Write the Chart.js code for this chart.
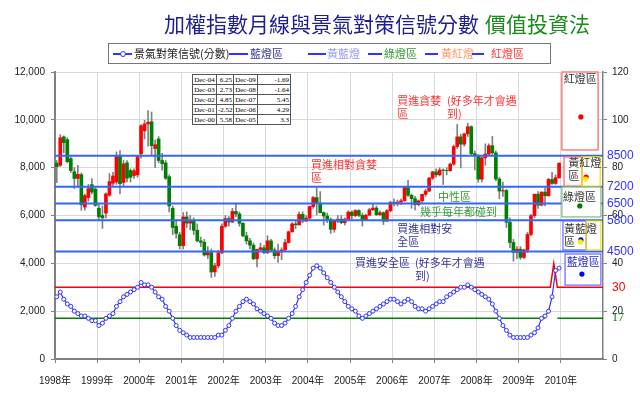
<!DOCTYPE html>
<html>
<head>
<meta charset="utf-8">
<script src="https://cdn.jsdelivr.net/npm/chart.js@4/dist/chart.umd.min.js"></script>
<style>
  body { margin: 0; background: #fff; }
  #wrap { position: relative; width: 640px; height: 394px; overflow: hidden; }
  #title { position: absolute; top: 13px; left: 164px; font: 21px/21px 'Noto Sans CJK TC', sans-serif; color: #1f1f8f; white-space: nowrap; }
  #title span { color: #1a8c1a; margin-left: 6px; }
  #legend { position: absolute; left: 108px; top: 43px; width: 441px; height: 19px; border: 1px solid #777; background: #fff;
    font: 11px/19px 'Noto Sans CJK TC', sans-serif; }
  #legend .ln { position: absolute; top: 9px; height: 2px; background: #3333ff; }
  #legend .dot { position: absolute; left: 7px; top: -2px; width: 4px; height: 4px; border: 1px solid #3333ff; border-radius: 50%; background: #fff; }
  #legend .lt { position: absolute; top: 0; white-space: nowrap; }
  #tbl { position: absolute; left: 192px; top: 74px; width: 98px; border-collapse: collapse; background: #fff;
    font: 7px/8px 'Liberation Serif', serif; color: #000; table-layout: fixed; }
  #tbl td { border: 1px solid #555; padding: 0 1px; height: 9px; text-align: right; white-space: nowrap; }
  #tbl td.d { text-align: center; padding: 0; }
</style>
</head>
<body>
<div id="wrap">
  <canvas id="c" width="640" height="394"></canvas>
  <div id="title">加權指數月線與景氣對策信號分數<span>價值投資法</span></div>
  <div id="legend">
    <span class="ln" style="left:4px;width:19px"><i class="dot"></i></span>
    <span class="lt" style="left:25px;color:#222">景氣對策信號(分數)</span>
    <span class="ln" style="left:120px;width:19px"></span>
    <span class="lt" style="left:141px;color:#333399">藍燈區</span>
    <span class="ln" style="left:199px;width:18px"></span>
    <span class="lt" style="left:218px;color:#9999ff">黃藍燈</span>
    <span class="ln" style="left:259px;width:14px"></span>
    <span class="lt" style="left:275px;color:#339933">綠燈區</span>
    <span class="ln" style="left:316px;width:13px"></span>
    <span class="lt" style="left:332px;color:#ff9966">黃紅燈</span>
    <span class="ln" style="left:363px;width:12px"></span>
    <span class="lt" style="left:382px;color:#ff3333">紅燈區</span>
  </div>
  <table id="tbl"></table>
</div>
<script>
// monthly TAIEX candles, Jan 1998 .. Dec 2009
const open = [
  8187, 8100, 9290, 9170, 8380, 7830, 7550, 7710, 6350, 6750, 7290, 7100,
  6300, 6000, 6100, 6850, 7350, 7400, 8500, 7380, 8200, 7880, 7670, 7700,
  8580, 9540, 9830, 9920, 8800, 9200, 8300, 8200, 7620, 6300, 5550, 5200,
  4740, 5940, 5680, 5800, 5380, 4940, 4880, 4350, 4450, 3640, 3900, 4440,
  5550, 5870, 5730, 6170, 6065, 5675, 5150, 4940, 4760, 4190, 4580, 4650,
  4450, 4940, 4560, 4320, 4480, 4560, 4870, 5320, 5650, 5610, 6045, 5770,
  5890, 6375, 6750, 6520, 6120, 5980, 5840, 5420, 5765, 5845, 5705, 5845,
  6140, 5995, 6207, 6005, 5818, 6011, 6241, 6312, 6033, 6118, 5764, 6203,
  6548, 6532, 6561, 6613, 7171, 6846, 6704, 6455, 6611, 6883, 7021, 7567,
  7823, 7700, 7902, 7884, 7875, 8145, 8883, 9287, 8982, 9411, 9711, 8586,
  8506, 7521, 8413, 8572, 8920, 8619, 7524, 7024, 7046, 5720, 4871, 4460,
  4591, 4248, 4557, 5210, 5992, 6890, 6432, 6977, 6826, 7509, 7340, 7582
];
const high = [
  8300, 9380, 9330, 9250, 8450, 8000, 8100, 7780, 6900, 7300, 7540, 7200,
  6500, 6400, 6950, 7750, 7800, 8660, 8710, 8300, 8300, 7950, 7950, 8500,
  9800, 9980, 10390, 10330, 9150, 9300, 8600, 8300, 7700, 6400, 5800, 5300,
  6125, 6150, 6000, 5900, 5650, 5100, 5000, 4700, 4600, 4000, 4550, 5650,
  6000, 5950, 6300, 6480, 6150, 5700, 5300, 5050, 4850, 4600, 4850, 4750,
  5150, 5000, 4650, 4800, 4650, 5000, 5350, 5700, 5800, 6150, 6150, 6000,
  6400, 6800, 7135, 7000, 6150, 6100, 5900, 5800, 6000, 6000, 5900, 6200,
  6200, 6250, 6250, 6100, 6050, 6300, 6480, 6400, 6200, 6150, 6250, 6600,
  6700, 6650, 6700, 7200, 7474, 6900, 6800, 6650, 6900, 7100, 7600, 7850,
  7950, 8000, 7950, 8000, 8200, 8950, 9807, 9400, 9450, 9859, 9750, 8700,
  8550, 8450, 9000, 9000, 9309, 8700, 7600, 7400, 7100, 5900, 5000, 4700,
  4700, 4600, 5300, 6050, 6890, 7000, 7000, 7150, 7550, 7800, 7700, 8200
];
const low = [
  7375, 8050, 8620, 8200, 7800, 7125, 7250, 6220, 6220, 6600, 6900, 6380,
  5800, 5460, 5900, 6800, 7250, 7300, 6900, 7200, 7400, 7400, 7550, 7600,
  8400, 9200, 8900, 8500, 8000, 8200, 7900, 7500, 6150, 5200, 5050, 4600,
  4600, 5500, 5400, 5200, 4900, 4700, 4300, 4200, 3410, 3450, 3800, 4400,
  5500, 5550, 5700, 5950, 5550, 5100, 4800, 4600, 4150, 3850, 4500, 4400,
  4400, 4500, 4200, 4040, 4150, 4500, 4850, 5300, 5450, 5600, 5700, 5750,
  5850, 6300, 6020, 6100, 5600, 5700, 5250, 5300, 5700, 5650, 5600, 5800,
  5850, 5950, 5950, 5560, 5800, 6000, 6200, 6000, 6000, 5620, 5750, 6150,
  6400, 6400, 6450, 6600, 6800, 6300, 6230, 6400, 6550, 6800, 7000, 7500,
  7600, 7650, 7300, 7700, 7850, 8100, 8800, 7987, 8900, 9300, 8500, 7900,
  7384, 7400, 8100, 8500, 8550, 7450, 6700, 6800, 5500, 4650, 4090, 4200,
  4164, 4200, 4450, 5150, 5900, 6300, 6400, 6400, 6800, 7300, 7300, 7550
];
const close = [
  8040, 9250, 9050, 8250, 7880, 7550, 7720, 6450, 6830, 7125, 6980, 6420,
  5950, 5900, 6900, 7420, 7650, 8470, 7330, 8160, 7560, 7600, 7870, 8450,
  9750, 9830, 9900, 8920, 8960, 8300, 8170, 7560, 6400, 5500, 5250, 4740,
  5940, 5680, 5800, 5380, 4940, 4880, 4350, 4450, 3640, 3900, 4440, 5550,
  5870, 5730, 6170, 6065, 5675, 5150, 4940, 4760, 4190, 4580, 4650, 4450,
  4940, 4560, 4320, 4480, 4560, 4870, 5320, 5650, 5610, 6045, 5770, 5890,
  6375, 6750, 6520, 6120, 5980, 5840, 5420, 5765, 5845, 5705, 5845, 6140,
  5995, 6207, 6005, 5818, 6011, 6241, 6312, 6033, 6118, 5764, 6203, 6548,
  6532, 6561, 6613, 7171, 6846, 6704, 6455, 6611, 6883, 7021, 7567, 7823,
  7700, 7902, 7884, 7875, 8145, 8883, 9287, 8982, 9411, 9711, 8586, 8506,
  7521, 8413, 8572, 8920, 8619, 7524, 7024, 7046, 5720, 4871, 4460, 4591,
  4248, 4557, 5210, 5992, 6890, 6432, 6977, 6826, 7509, 7340, 7582, 8188
];
// 景氣對策信號分數, same months
const score = [
  26, 28, 25, 23, 22, 20, 19, 18, 18, 17, 16, 16,
  14, 15, 17, 18, 19, 22, 24, 26, 27, 28, 29, 30,
  32, 31, 31, 30, 28, 26, 25, 22, 20, 17, 14, 12,
  11, 10, 9, 9, 9, 9, 9, 9, 9, 9, 10, 10,
  12, 14, 17, 20, 22, 24, 25, 24, 23, 21, 20, 19,
  18, 17, 15, 14, 14, 15, 17, 19, 22, 26, 29, 32,
  35, 38, 39, 38, 36, 34, 32, 30, 28, 26, 24, 22,
  21, 20, 18, 17, 18, 19, 20, 21, 22, 23, 24, 25,
  25, 24, 23, 24, 25, 24, 22, 21, 21, 20, 21, 22,
  23, 24, 24, 26, 27, 28, 29, 30, 30, 31, 30, 29,
  28, 27, 26, 25, 23, 20, 17, 14, 12, 10, 9, 9,
  9, 9, 9, 10, 11, 13, 17, 18, 20, 26, 37, 38
];
const bandLevels = [8500, 7200, 6500, 5800, 4500];
const redLine = [{x: 0, y: 30}, {x: 141, y: 30}, {x: 142, y: 40}, {x: 143, y: 30}, {x: 156, y: 30}];
const greenLine = [{x: 0, y: 17}, {x: 139.5, y: 17}, {x: 141, y: null}, {x: 143, y: 17}, {x: 156, y: 17}];
const firstYear = 1998;
const lastMonth = 156;

const tableLeft = ['Dec-04', 'Dec-03', 'Dec-02', 'Dec-01', 'Dec-00'];
const tableLeftVal = ['6.25', '2.73', '4.85', '-2.52', '5.58'];
const tableRight = ['Dec-09', 'Dec-08', 'Dec-07', 'Dec-06', 'Dec-05'];
const tableRightVal = ['-1.69', '-1.64', '5.45', '4.29', '3.3'];

const tbl = document.getElementById('tbl');
tbl.innerHTML = '<colgroup><col style="width:24px"><col style="width:17px"><col style="width:24px"><col style="width:33px"></colgroup>' +
  tableLeft.map((d, i) =>
  '<tr><td class="d">' + d + '</td><td>' + tableLeftVal[i] +
  '</td><td class="d">' + tableRight[i] + '</td><td>' + tableRightVal[i] + '</td></tr>').join('');

const sans = "'Liberation Sans', 'Noto Sans CJK TC', sans-serif";
const cjk = "'Noto Sans CJK TC', sans-serif";

const notes = [
  { lines: ['買進貪婪', '區'], m: 97.4, v: 10800, color: '#ff3333' },
  { lines: ['(好多年才會遇', '到)'], m: 111.6, v: 10800, color: '#ff3333' },
  { lines: ['買進相對貪婪', '區'], m: 72.9, v: 8130, color: '#ff3333' },
  { lines: ['中性區'], m: 109.0, v: 6790, color: '#339933' },
  { lines: ['幾乎每年都碰到'], m: 103.9, v: 6170, color: '#339933' },
  { lines: ['買進相對安', '全區'], m: 97.4, v: 5460, color: '#333399' },
  { lines: ['買進安全區'], m: 85.4, v: 4040, color: '#333399' },
  { lines: ['(好多年才會遇', '到)'], m: 102.5, v: 4040, color: '#333399' }
];

const lampBoxes = [
  { m0: 144.3, m1: 154.6, v0: 120, v1: 87.4, stroke: '#ff6060' },
  { m0: 144.9, m1: 150.0, v0: 84.5, v1: 72.3, stroke: '#ff6060' },
  { m0: 150.0, m1: 155.2, v0: 84.5, v1: 72.3, stroke: '#f0e000' },
  { m0: 144.3, m1: 155.4, v0: 71.9, v1: 59.4, stroke: '#80b880' },
  { m0: 144.6, m1: 151.2, v0: 57.7, v1: 45.6, stroke: '#6666ff' },
  { m0: 151.2, m1: 155.4, v0: 57.7, v1: 45.6, stroke: '#f0e000' },
  { m0: 145.2, m1: 155.4, v0: 43.9, v1: 30.9, stroke: '#6666ff' }
];
const lampTexts = [
  { text: '紅燈區', m: 144.8, v: 117.1, color: '#333' },
  { text: '黃紅燈', m: 146.1, v: 81.9, color: '#333' },
  { text: '區', m: 146.1, v: 76.5, color: '#333' },
  { text: '綠燈區', m: 144.6, v: 67.7, color: '#333' },
  { text: '黃藍燈', m: 144.9, v: 54.4, color: '#333' },
  { text: '區', m: 144.9, v: 48.9, color: '#333' },
  { text: '藍燈區', m: 145.7, v: 40.6, color: '#2222dd' }
];
const lampDots = [
  { m: 149.7, v: 101.2, colors: ['#ff0000'] },
  { m: 151.2, v: 76.1, colors: ['#ff0000', '#ffee00'] },
  { m: 149.4, v: 64.0, colors: ['#008000'] },
  { m: 149.7, v: 49.8, colors: ['#0000ff', '#ffee00'] },
  { m: 150.0, v: 35.5, colors: ['#0000ff'] }
];

const zonePlugin = {
  id: 'zones',
  afterDraw(chart) {
    const { ctx, chartArea, scales: { x, y, y2 } } = chart;
    ctx.save();
    ctx.textBaseline = 'middle';
    ctx.textAlign = 'left';
    ctx.font = '11px ' + cjk;
    notes.forEach(n => {
      ctx.fillStyle = n.color;
      n.lines.forEach((t, k) => ctx.fillText(t, x.getPixelForValue(n.m), y.getPixelForValue(n.v) + k * 13));
    });
    lampBoxes.forEach(b => {
      const x0 = x.getPixelForValue(b.m0), x1 = x.getPixelForValue(b.m1);
      const t0 = y2.getPixelForValue(b.v0), t1 = y2.getPixelForValue(b.v1);
      ctx.fillStyle = '#fff';
      ctx.fillRect(x0, t0, x1 - x0, t1 - t0);
    });
    lampBoxes.forEach(b => {
      const x0 = x.getPixelForValue(b.m0), x1 = x.getPixelForValue(b.m1);
      const t0 = y2.getPixelForValue(b.v0), t1 = y2.getPixelForValue(b.v1);
      ctx.strokeStyle = b.stroke;
      ctx.lineWidth = 1.2;
      ctx.strokeRect(x0, t0, x1 - x0, t1 - t0);
    });
    lampTexts.forEach(t => {
      ctx.fillStyle = t.color;
      ctx.fillText(t.text, x.getPixelForValue(t.m), y2.getPixelForValue(t.v));
    });
    lampDots.forEach(d => {
      d.colors.forEach((c, k) => {
        ctx.beginPath();
        ctx.fillStyle = c;
        ctx.arc(x.getPixelForValue(d.m) - k * 0.5, y2.getPixelForValue(d.v) + k * 2, 2.6, 0, Math.PI * 2);
        ctx.fill();
      });
    });
    // level labels at the right edge
    ctx.font = '12px ' + sans;
    const rx = chartArea.right + 4;
    ctx.fillStyle = '#3333ff';
    bandLevels.forEach(v => ctx.fillText(String(v), rx, y.getPixelForValue(v)));
    ctx.fillStyle = '#ff0000';
    ctx.fillText('30', rx + 5, y2.getPixelForValue(30));
    ctx.fillStyle = '#008000';
    ctx.font = '12px ' + "'Liberation Serif', serif";
    ctx.fillText('17', rx + 5, y2.getPixelForValue(17));
    ctx.restore();
  }
};

const candleX = open.map((_, i) => i + 0.5);

new Chart(document.getElementById('c').getContext('2d'), {
  type: 'bar',
  data: {
    datasets: [
      ...bandLevels.map(v => ({
        type: 'line', data: [{ x: 0, y: v }, { x: lastMonth, y: v }],
        borderColor: '#3366ff', borderWidth: 2, pointRadius: 0, yAxisID: 'y', order: 1
      })),
      { type: 'line', data: redLine, borderColor: '#ff0000', borderWidth: 1.5, pointRadius: 0, yAxisID: 'y2', order: 1 },
      { type: 'line', data: greenLine, borderColor: '#008000', borderWidth: 1.5, pointRadius: 0, spanGaps: false, yAxisID: 'y2', order: 1 },
      {
        type: 'line', data: score.map((s, i) => ({ x: candleX[i], y: s })),
        borderColor: '#3333ff', borderWidth: 1.2, pointRadius: 2, pointBorderWidth: 1,
        pointBackgroundColor: '#fff', pointBorderColor: '#3333ff', yAxisID: 'y2', order: 0
      },
      {
        type: 'bar', data: low.map((l, i) => ({ x: candleX[i], y: [l, high[i]] })),
        backgroundColor: '#808080', barThickness: 1, grouped: false, yAxisID: 'y', order: 3
      },
      {
        type: 'bar', data: open.map((o, i) => ({ x: candleX[i], y: [o, close[i]] })),
        backgroundColor: open.map((o, i) => close[i] >= o ? '#ff0000' : '#008000'),
        barThickness: 3, grouped: false, yAxisID: 'y', order: 2
      }
    ]
  },
  options: {
    responsive: false,
    animation: false,
    devicePixelRatio: 1,
    layout: { padding: { top: 72, left: 0, right: 0, bottom: 0 } },
    plugins: { legend: { display: false }, tooltip: { enabled: false } },
    scales: {
      x: {
        type: 'linear', min: 0, max: lastMonth, offset: false,
        afterFit: s => { s.height = 35; },
        grid: { offset: false, color: '#d9d9d9', tickLength: 4, tickColor: '#808080' },
        border: { color: '#808080', width: 2 },
        ticks: {
          stepSize: 12, autoSkip: false, maxRotation: 0, padding: 12, color: '#222',
          font: { family: sans, size: 10 },
          callback: v => v >= lastMonth ? null : (firstYear + v / 12) + '年'
        }
      },
      y: {
        position: 'left', min: 0, max: 12000,
        afterFit: s => { s.width = 55; },
        grid: { color: '#d9d9d9', tickLength: 4, tickColor: '#808080' },
        border: { color: '#808080', width: 2 },
        ticks: { stepSize: 2000, padding: 6, color: '#222', font: { family: sans, size: 10 },
          callback: v => v.toLocaleString('en-US') }
      },
      y2: {
        position: 'right', min: 0, max: 120,
        afterFit: s => { s.width = 37; },
        grid: { drawOnChartArea: false, tickLength: 4, tickColor: '#808080' },
        border: { color: '#808080', width: 1.5 },
        ticks: { stepSize: 20, padding: 5, color: '#222', font: { family: sans, size: 10 } }
      }
    }
  },
  plugins: [zonePlugin]
});
</script>
</body>
</html>
